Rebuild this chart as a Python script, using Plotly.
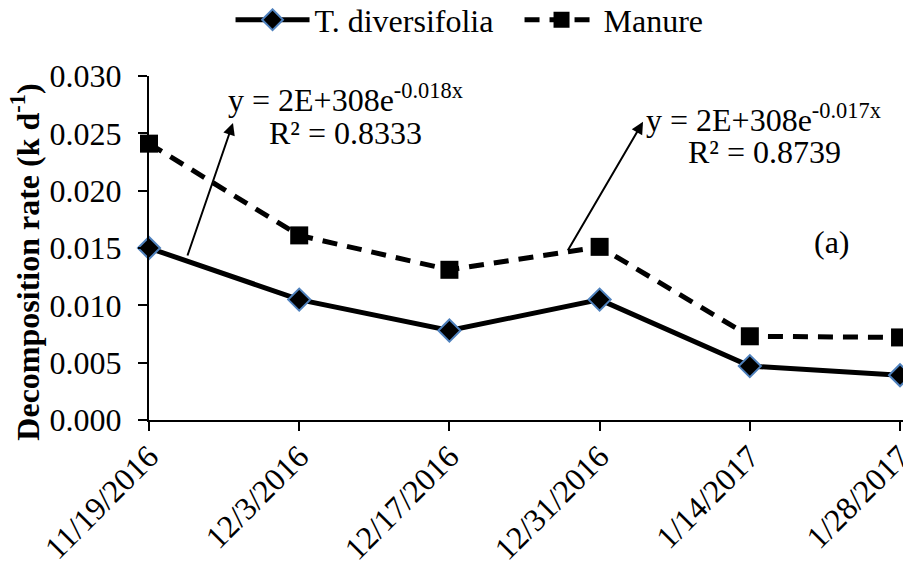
import plotly.graph_objects as go

dates = ["11/19/2016", "12/3/2016", "12/17/2016", "12/31/2016", "1/14/2017", "1/28/2017"]
t_diversifolia = [0.0150, 0.0105, 0.0078, 0.0105, 0.0047, 0.0039]
manure = [0.0241, 0.0161, 0.0131, 0.0151, 0.0073, 0.0072]
y_ticks = [0.000, 0.005, 0.010, 0.015, 0.020, 0.025, 0.030]

FONT = "Liberation Serif, Times New Roman, serif"
FS = 32
x_idx = list(range(len(dates)))

fig = go.Figure()
fig.add_trace(go.Scatter(
    x=x_idx, y=t_diversifolia, name="T. diversifolia", mode="lines+markers",
    line=dict(color="black", width=5),
    marker=dict(symbol="diamond", size=17, color="black",
                line=dict(color="#4F81BD", width=2)),
    cliponaxis=False,
))
fig.add_trace(go.Scatter(
    x=x_idx, y=manure, name="Manure", mode="lines+markers",
    line=dict(color="black", width=5, dash="15px,10px"),
    marker=dict(symbol="square", size=18, color="black",
                line=dict(color="black", width=0)),
    cliponaxis=False,
))

annots = [
    dict(x=0.559, y=0.0259, ax=-46, ay=134, text="", showarrow=True,
         arrowhead=2, arrowsize=1.2, arrowwidth=2, arrowcolor="black"),
    dict(x=3.289, y=0.0260, ax=-76, ay=130, text="", showarrow=True,
         arrowhead=2, arrowsize=1.2, arrowwidth=2, arrowcolor="black"),
    dict(x=1.305, y=0.02808, text="y = 2E+308e<sup>-0.018x</sup>", showarrow=False,
         xanchor="center", yanchor="middle"),
    dict(x=1.305, y=0.02503, text="R² = 0.8333", showarrow=False,
         xanchor="center", yanchor="middle"),
    dict(x=4.09, y=0.0263, text="y = 2E+308e<sup>-0.017x</sup>", showarrow=False,
         xanchor="center", yanchor="middle"),
    dict(x=4.10, y=0.0234, text="R² = 0.8739", showarrow=False,
         xanchor="center", yanchor="middle"),
    dict(x=4.55, y=0.0155, text="(a)", showarrow=False,
         xanchor="center", yanchor="middle"),
]
for a in annots:
    a.update(xref="x", yref="y", font=dict(family=FONT, size=FS, color="black"))

# y-axis title as a rotated annotation
annots.append(dict(
    text="<b>Decomposition rate (k d<sup>-1</sup>)</b>", textangle=-90,
    xref="paper", yref="paper", x=-0.162, y=0.459, xanchor="center", yanchor="middle",
    showarrow=False, font=dict(family=FONT, size=FS, color="black"),
))

# page body has an 8px margin: size the figure to fit the 911x564 window
fig.update_layout(
    width=903, height=556,
    margin=dict(l=141, r=0, t=68, b=144, autoexpand=False),
    paper_bgcolor="white", plot_bgcolor="white",
    font=dict(family=FONT, size=FS, color="black"),
    showlegend=True,
    legend=dict(orientation="h", x=0.107, xref="paper", xanchor="left",
                y=1.163, yref="paper", yanchor="middle",
                font=dict(family=FONT, size=FS, color="black"),
                itemwidth=74, entrywidth=200, entrywidthmode="pixels",
                bgcolor="rgba(0,0,0,0)"),
    annotations=annots,
)
fig.update_xaxes(
    range=[0, 5.073], tickmode="array", tickvals=x_idx, ticktext=dates,
    tickangle=-45, showline=True, linecolor="black", linewidth=2,
    ticks="outside", ticklen=9, tickwidth=2, tickcolor="black",
    showgrid=False, zeroline=False, automargin=False, ticklabeloverflow="allow",
    ticklabelstandoff=-6,
    tickfont=dict(family=FONT, size=FS, color="black"),
)
fig.update_yaxes(
    range=[0, 0.030], tickmode="array", tickvals=y_ticks,
    ticktext=[f"{v:.3f}" for v in y_ticks],
    showline=True, linecolor="black", linewidth=2,
    ticks="outside", ticklen=9, tickwidth=2, tickcolor="black",
    showgrid=False, zeroline=False, automargin=False, ticklabelstandoff=10,
    tickfont=dict(family=FONT, size=FS, color="black"),
)

fig.write_html("out.html")
